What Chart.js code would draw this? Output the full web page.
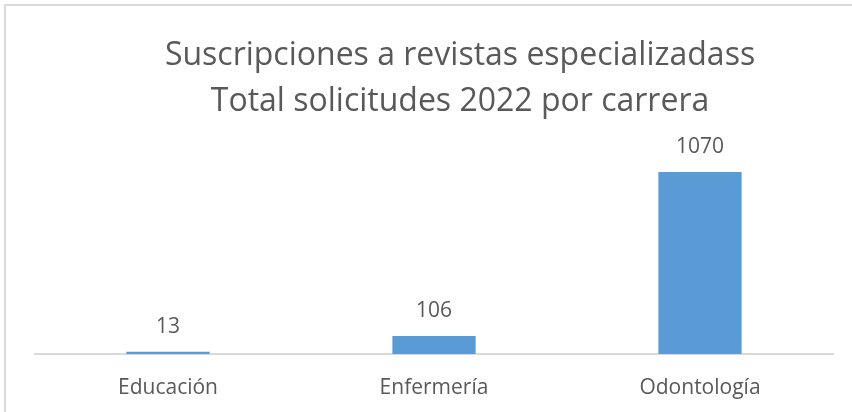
<!DOCTYPE html>
<html>
<head>
<meta charset="utf-8">
<script src="https://cdn.jsdelivr.net/npm/chart.js@4/dist/chart.umd.min.js"></script>
<style>
  html, body { margin: 0; padding: 0; background: #fff; overflow: hidden; }
  #frame { position: absolute; left: 4px; top: 4px; width: 2000px; height: 2000px;
           border-left: 2px solid #d9d9d9; border-top: 2px solid #d9d9d9; }
  #chart { position: absolute; left: 0; top: 0; }
</style>
</head>
<body>
<div id="frame"></div>
<canvas id="chart" width="885" height="412"></canvas>
<script>
const titleLines = ['Suscripciones a revistas especializadass', 'Total solicitudes 2022 por carrera'];
const carreras = ['Educación', 'Enfermería', 'Odontología'];
const solicitudes = [13, 106, 1070];

const gray = '#595959';

// etiquetas de valor encima de cada barra
const valueLabels = {
    id: 'valueLabels',
    afterDatasetsDraw(chart) {
        const ctx = chart.ctx;
        const meta = chart.getDatasetMeta(0);
        ctx.save();
        ctx.font = '21px "Open Sans"';
        ctx.fillStyle = gray;
        ctx.textAlign = 'center';
        ctx.textBaseline = 'alphabetic';
        meta.data.forEach((bar, i) => {
            ctx.fillText(String(solicitudes[i]), bar.x, bar.y - 19);
        });
        ctx.restore();
    }
};

new Chart(document.getElementById('chart'), {
    type: 'bar',
    data: {
        labels: carreras,
        datasets: [{
            data: solicitudes,
            backgroundColor: '#5b9bd5',
            borderWidth: 0,
            categoryPercentage: 1,
            barPercentage: 0.313
        }]
    },
    options: {
        responsive: false,
        animation: false,
        layout: { padding: { left: 35, right: 0, top: 0, bottom: 0 } },
        plugins: {
            legend: { display: false },
            tooltip: { enabled: false },
            title: {
                display: true,
                text: titleLines,
                color: gray,
                font: { family: 'Open Sans', size: 32, weight: 'normal', lineHeight: 46 / 32 },
                padding: { top: 33, bottom: 25 }
            }
        },
        scales: {
            x: {
                grid: { display: false, drawTicks: false },
                border: { display: true, color: '#d9d9d9', width: 2 },
                ticks: { color: gray, font: { family: 'Open Sans', size: 21 }, padding: 21 },
                afterFit(scale) { scale.height = 58; }
            },
            y: {
                position: 'right',
                min: 0,
                max: 1200,
                grid: { display: false },
                border: { display: false },
                ticks: { display: false },
                afterFit(scale) { scale.width = 52; }
            }
        }
    },
    plugins: [valueLabels]
});
</script>
</body>
</html>
